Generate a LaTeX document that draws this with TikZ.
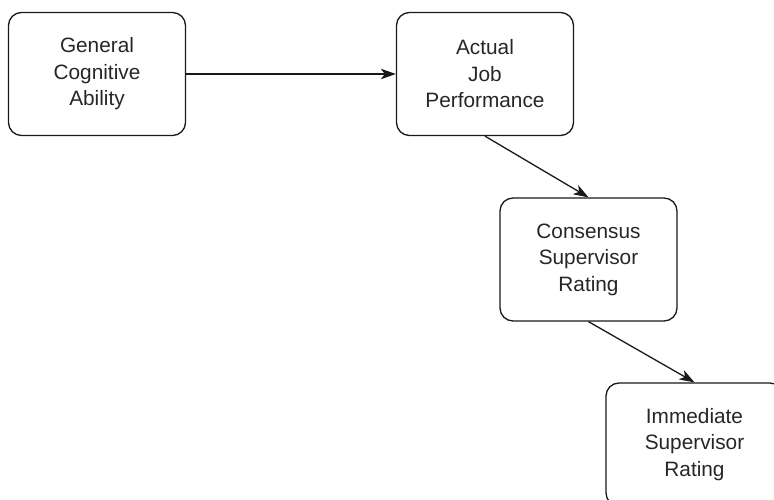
\documentclass[tikz,border=0pt]{standalone}
\usepackage{fontspec}
\setmainfont{Liberation Sans}
\usetikzlibrary{arrows.meta}
\begin{document}
\begin{tikzpicture}[x=1pt,y=-1pt,
  stagebox/.style={draw=black!90, line width=1.3pt, rounded corners=13pt,
    minimum width=177pt, minimum height=123pt, inner sep=0pt,
    align=center, text=black!85,
    font=\fontsize{20.8pt}{26.5pt}\selectfont},
  link/.style={draw=black!90, line width=1.3pt,
    -{Stealth[length=15pt,width=10.5pt,inset=4pt]}}]
  \useasboundingbox (0,0) rectangle (774,500);
  \clip (0,0) rectangle (774,500);
  \node[stagebox] (gca) at (97,74) {General\\Cognitive\\Ability};
  \node[stagebox] (ajp) at (485,74) {Actual\\Job\\Performance};
  \node[stagebox] (csr) at (588.5,259.5) {Consensus\\Supervisor\\Rating};
  \node[stagebox] (isr) at (694.5,444.5) {Immediate\\Supervisor\\Rating};
  \draw[link] (gca.east) -- (ajp.west);
  \draw[link] (ajp.south) -- (csr.north);
  \draw[link] (csr.south) -- (isr.north);
\end{tikzpicture}
\end{document}
